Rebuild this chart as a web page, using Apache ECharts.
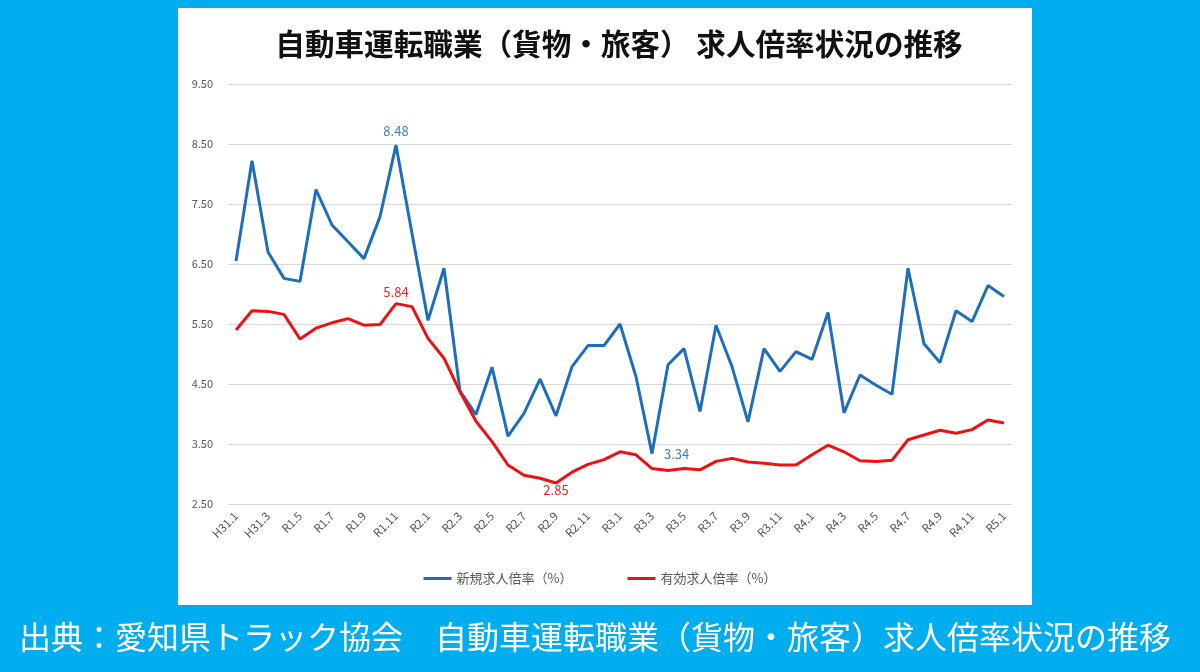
<!DOCTYPE html>
<html>
<head>
<meta charset="utf-8">
<script src="https://cdn.jsdelivr.net/npm/echarts@6/dist/echarts.min.js"></script>
<style>
  html, body { margin: 0; padding: 0; background: #00aeef; }
  #panel { position: absolute; left: 178px; top: 8px; width: 854px; height: 597px; background: #ffffff; }
  #chart { position: absolute; left: 0; top: 0; width: 1200px; height: 672px; }
</style>
</head>
<body>
<div id="panel"></div>
<div id="chart"></div>
<script>
// 月次（H31.1 〜 R5.1）
const months = [
  'H31.1', 'H31.2', 'H31.3', 'H31.4', 'R1.5', 'R1.6', 'R1.7', 'R1.8', 'R1.9', 'R1.10', 'R1.11', 'R1.12',
  'R2.1', 'R2.2', 'R2.3', 'R2.4', 'R2.5', 'R2.6', 'R2.7', 'R2.8', 'R2.9', 'R2.10', 'R2.11', 'R2.12',
  'R3.1', 'R3.2', 'R3.3', 'R3.4', 'R3.5', 'R3.6', 'R3.7', 'R3.8', 'R3.9', 'R3.10', 'R3.11', 'R3.12',
  'R4.1', 'R4.2', 'R4.3', 'R4.4', 'R4.5', 'R4.6', 'R4.7', 'R4.8', 'R4.9', 'R4.10', 'R4.11', 'R4.12',
  'R5.1'
]

// 新規求人倍率
const newRatio = [
  6.55, 8.22, 6.70, 6.26, 6.21, 7.74, 7.15, 6.87, 6.59, 7.29, 8.48, 7.01,
  5.56, 6.43, 4.38, 3.99, 4.78, 3.63, 4.01, 4.58, 3.97, 4.79, 5.14, 5.14,
  5.50, 4.62, 3.34, 4.82, 5.09, 4.04, 5.48, 4.79, 3.87, 5.09, 4.71, 5.04,
  4.91, 5.69, 4.02, 4.65, 4.48, 4.33, 6.43, 5.17, 4.86, 5.72, 5.54, 6.14,
  5.96
]

// 有効求人倍率
const activeRatio = [
  5.40, 5.72, 5.71, 5.66, 5.25, 5.43, 5.52, 5.59, 5.48, 5.49, 5.84, 5.79,
  5.26, 4.93, 4.37, 3.88, 3.54, 3.15, 2.98, 2.93, 2.85, 3.03, 3.16, 3.24,
  3.37, 3.32, 3.09, 3.06, 3.09, 3.07, 3.21, 3.26, 3.20, 3.18, 3.15, 3.15,
  3.32, 3.48, 3.37, 3.22, 3.21, 3.23, 3.57, 3.65, 3.73, 3.68, 3.74, 3.90,
  3.85
]

// 値ラベルを付ける点 [index, position, distance]
const newLabels = [[10, 'top', 8], [26, 'right', 12]]
const activeLabels = [[10, 'top', 5], [20, 'bottom', 1]]

const FONT = '"Noto Sans CJK JP", "Noto Sans", sans-serif'

function withLabels (values, marks, color) {
  return values.map((v, i) => {
    const mark = marks.find((m) => m[0] === i)
    if (!mark) return v
    return {
      value: v,
      label: {
        show: true,
        position: mark[1],
        distance: mark[2],
        color: color,
        fontSize: 13,
        fontFamily: FONT,
        formatter: (p) => p.value.toFixed(2)
      }
    }
  })
}

const chart = echarts.init(document.getElementById('chart'))

const option = {
  backgroundColor: 'transparent',
  animation: false,
  title: [
    {
      text: '自動車運転職業（貨物・旅客） 求人倍率状況の推移',
      left: 614,
      top: 24,
      textAlign: 'center',
      textStyle: {
        fontFamily: FONT,
        fontSize: 29.6,
        fontWeight: 'bold',
        color: '#111111'
      }
    },
    {
      text: '出典：愛知県トラック協会　自動車運転職業（貨物・旅客）求人倍率状況の推移',
      left: 14,
      top: 616,
      textStyle: {
        fontFamily: FONT,
        fontSize: 32,
        fontWeight: 'normal',
        color: '#ffffff'
      }
    }
  ],
  legend: {
    bottom: 82,
    left: 'center',
    itemWidth: 28,
    itemHeight: 3,
    itemGap: 55,
    icon: 'rect',
    textStyle: {
      fontFamily: FONT,
      fontSize: 13,
      color: '#595959'
    },
    data: ['新規求人倍率（%）', '有効求人倍率（%）']
  },
  grid: {
    left: 228,
    right: 188,
    top: 84,
    bottom: 168
  },
  xAxis: {
    type: 'category',
    data: months,
    boundaryGap: true,
    axisLine: { show: false },
    axisTick: { show: false },
    axisLabel: {
      interval: 1,
      rotate: 45,
      margin: 10,
      fontFamily: FONT,
      fontSize: 11.5,
      color: '#555555'
    }
  },
  yAxis: {
    type: 'value',
    min: 2.5,
    max: 9.5,
    interval: 1,
    axisLine: { show: false },
    axisTick: { show: false },
    splitLine: { lineStyle: { color: '#d9d9d9', width: 1 } },
    axisLabel: {
      margin: 15,
      fontFamily: FONT,
      fontSize: 11,
      color: '#595959',
      formatter: (v) => v.toFixed(2)
    }
  },
  series: [
    {
      name: '新規求人倍率（%）',
      type: 'line',
      data: withLabels(newRatio, newLabels, '#3a80c4'),
      symbol: 'circle',
      symbolSize: 0,
      showSymbol: true,
      lineStyle: { color: '#1f6fb8', width: 3 },
      itemStyle: { color: '#1f6fb8' }
    },
    {
      name: '有効求人倍率（%）',
      type: 'line',
      data: withLabels(activeRatio, activeLabels, '#e3242b'),
      symbol: 'circle',
      symbolSize: 0,
      showSymbol: true,
      lineStyle: { color: '#ee1111', width: 3 },
      itemStyle: { color: '#ee1111' }
    }
  ]
}

chart.setOption(option)
</script>
</body>
</html>
